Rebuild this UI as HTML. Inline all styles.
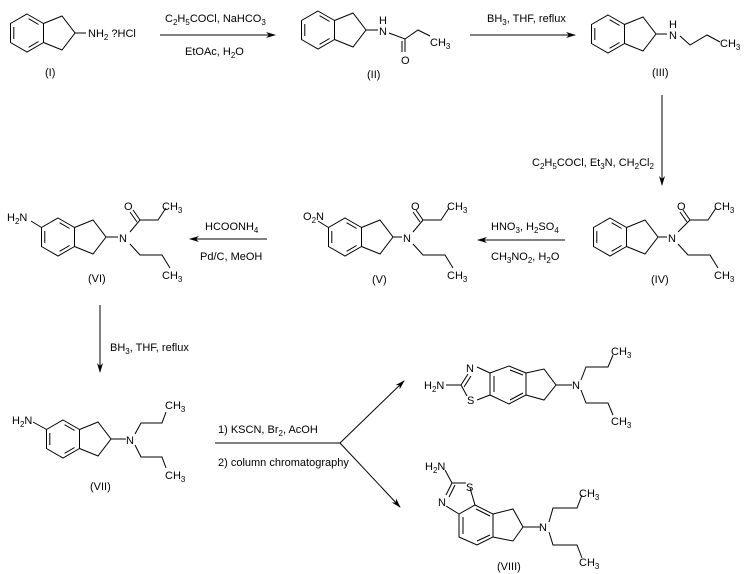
<!DOCTYPE html>
<html><head><meta charset="utf-8"><style>
html,body{margin:0;padding:0;background:#fff;}
svg{display:block;}
text{font-family:"Liberation Sans",sans-serif;font-size:11px;fill:#000;}
.s{font-size:8px;}
</style></head><body>
<svg width="745" height="574" viewBox="0 0 745 574" xmlns="http://www.w3.org/2000/svg">
<defs>
<g id="ind" fill="none" stroke="#000" stroke-width="1">
<polygon points="0,-19 16.5,-9.5 16.5,9.5 0,19 -16.5,9.5 -16.5,-9.5"/>
<polyline points="16.5,-9.5 35,-17 48,0 35,17 16.5,9.5"/>
<line x1="-13.2" y1="-6" x2="-13.2" y2="6"/>
<line x1="1.6" y1="-14.3" x2="11.6" y2="-8.5"/>
<line x1="1.6" y1="14.3" x2="11.6" y2="8.5"/>
</g>
<marker id="ah" markerWidth="10" markerHeight="6" refX="9" refY="3" orient="auto" markerUnits="userSpaceOnUse">
<path d="M0,0 L10,3 L0,6 L3,3 z" fill="#000"/>
</marker>
</defs>
<g stroke="#000" stroke-width="1" fill="none">
<use href="#ind" x="27" y="33"/>
<line x1="75" y1="33" x2="86" y2="33"/>
<line x1="160" y1="35" x2="275" y2="35" marker-end="url(#ah)"/>
<!-- II -->
<use href="#ind" x="318" y="30"/>
<line x1="366" y1="30" x2="378" y2="30"/>
<polyline points="389,33 405,39 418,30 430,36"/>
<line x1="405" y1="39" x2="405" y2="52"/><line x1="402" y1="41" x2="402" y2="52"/>
<line x1="470" y1="35" x2="575" y2="35" marker-end="url(#ah)"/>
<!-- III -->
<use href="#ind" x="608" y="34"/>
<line x1="656" y1="34" x2="667" y2="34"/>
<polyline points="680,36 690,45 707,35 720,42"/>
<line x1="662" y1="95" x2="662" y2="185" marker-end="url(#ah)"/>
<!-- IV -->
<use href="#ind" x="610" y="237"/>
<line x1="658" y1="237" x2="667" y2="237"/>
<polyline points="678,232 690,220 708,220 716,208"/>
<line x1="690" y1="220" x2="683" y2="210"/><line x1="687" y1="222" x2="680" y2="212"/>
<polyline points="678,244 688,255 710,255 718,268"/>
<line x1="565" y1="240" x2="478" y2="240" marker-end="url(#ah)"/>
<!-- V -->
<use href="#ind" x="345" y="237"/>
<line x1="328.5" y1="227.5" x2="318" y2="221"/>
<line x1="393" y1="237" x2="402" y2="237"/>
<polyline points="413,232 423,220 441,220 449,208"/>
<line x1="423" y1="220" x2="416" y2="210"/><line x1="420" y1="222" x2="413" y2="212"/>
<polyline points="413,244 423,255 445,255 453,268"/>
<line x1="267" y1="239" x2="190" y2="239" marker-end="url(#ah)"/>
<!-- VI -->
<use href="#ind" x="58" y="237"/>
<line x1="41.5" y1="227.5" x2="31" y2="221"/>
<line x1="106" y1="237" x2="118" y2="237"/>
<polyline points="130,232 140,220 158,220 166,208"/>
<line x1="140" y1="220" x2="133" y2="210"/><line x1="137" y1="222" x2="130" y2="212"/>
<polyline points="130,244 140,255 162,255 170,268"/>
<line x1="100" y1="305" x2="100" y2="372" marker-end="url(#ah)"/>
<!-- VII -->
<use href="#ind" x="63" y="439"/>
<line x1="46.5" y1="429.5" x2="33" y2="422"/>
<line x1="111" y1="439" x2="126" y2="439"/>
<polyline points="135,434 141,423 162,423 166,412"/>
<polyline points="135,445 141,457 162,457 166,468"/>
<line x1="215" y1="443" x2="340" y2="443"/>
<line x1="340" y1="443" x2="404" y2="381" marker-end="url(#ah)"/>
<line x1="340" y1="443" x2="400" y2="507" marker-end="url(#ah)"/>
<!-- top product -->
<line x1="446" y1="385" x2="461" y2="385"/>
<line x1="461" y1="385" x2="468" y2="374"/><line x1="464" y1="387" x2="471" y2="376"/>
<line x1="461" y1="385" x2="467" y2="396"/>
<line x1="477" y1="367" x2="490" y2="373"/>
<line x1="477" y1="400" x2="490" y2="395"/>
<polygon points="490,373 509,366 526,373 526,395 509,404 490,395"/>
<line x1="494" y1="376" x2="494" y2="392"/>
<line x1="510" y1="370" x2="523" y2="375"/>
<line x1="510" y1="400" x2="523" y2="393"/>
<polyline points="526,373 544,369 556,385 544,400 526,395"/>
<line x1="556" y1="385" x2="572" y2="385"/>
<polyline points="581,380 586,367 608,367 613,355"/>
<polyline points="581,390 586,403 608,403 613,415"/>
<!-- bottom product -->
<line x1="445" y1="470" x2="452" y2="483"/>
<line x1="452" y1="483" x2="466" y2="483"/>
<line x1="452" y1="483" x2="446" y2="495"/><line x1="455" y1="485" x2="449" y2="497"/>
<line x1="470" y1="488" x2="475" y2="505"/>
<line x1="446" y1="506" x2="459" y2="514"/>
<polygon points="475,505 493,514 493,537 477,545 459,537 459,514"/>
<line x1="476" y1="509" x2="490" y2="516"/>
<line x1="463" y1="517" x2="463" y2="534"/>
<line x1="477" y1="541" x2="490" y2="535"/>
<polyline points="493,514 513,509 523,527 513,541 493,537"/>
<line x1="523" y1="527" x2="540" y2="527"/>
<polyline points="549,522 553,508 577,508 582,495"/>
<polyline points="549,532 553,545 577,545 582,558"/>
</g>
<g>
<text x="88" y="37">NH<tspan class="s" dy="3">2</tspan><tspan dy="-3"> ?HCl</tspan></text>
<text x="45" y="76">(I)</text>
<text x="165" y="22">C<tspan class="s" dy="3">2</tspan><tspan dy="-3">H</tspan><tspan class="s" dy="3">5</tspan><tspan dy="-3">COCl, NaHCO</tspan><tspan class="s" dy="3">3</tspan></text>
<text x="185" y="55">EtOAc, H<tspan class="s" dy="3">2</tspan><tspan dy="-3">O</tspan></text>
<!-- II -->
<text x="379" y="24">H</text>
<text x="379" y="35">N</text>
<text x="401" y="64">O</text>
<text x="430" y="46">CH<tspan class="s" dy="3">3</tspan></text>
<text x="367" y="78">(II)</text>
<text x="487" y="22">BH<tspan class="s" dy="3">3</tspan><tspan dy="-3">, THF, reflux</tspan></text>
<text x="669" y="28">H</text>
<text x="669" y="39">N</text>
<text x="720" y="47">CH<tspan class="s" dy="3">3</tspan></text>
<text x="652" y="76">(III)</text>
<text x="532" y="166">C<tspan class="s" dy="3">2</tspan><tspan dy="-3">H</tspan><tspan class="s" dy="3">5</tspan><tspan dy="-3">COCl, Et</tspan><tspan class="s" dy="3">3</tspan><tspan dy="-3">N, CH</tspan><tspan class="s" dy="3">2</tspan><tspan dy="-3">Cl</tspan><tspan class="s" dy="3">2</tspan></text>
<text x="668" y="242">N</text>
<text x="677" y="210">O</text>
<text x="714" y="210">CH<tspan class="s" dy="3">3</tspan></text>
<text x="714" y="279">CH<tspan class="s" dy="3">3</tspan></text>
<text x="651" y="283">(IV)</text>
<text x="491" y="230">HNO<tspan class="s" dy="3">3</tspan><tspan dy="-3">, H</tspan><tspan class="s" dy="3">2</tspan><tspan dy="-3">SO</tspan><tspan class="s" dy="3">4</tspan></text>
<text x="491" y="260">CH<tspan class="s" dy="3">3</tspan><tspan dy="-3">NO</tspan><tspan class="s" dy="3">2</tspan><tspan dy="-3">, H</tspan><tspan class="s" dy="3">2</tspan><tspan dy="-3">O</tspan></text>
<text x="303" y="220">O<tspan class="s" dy="3">2</tspan><tspan dy="-3">N</tspan></text>
<text x="403" y="242">N</text>
<text x="411" y="210">O</text>
<text x="447" y="210">CH<tspan class="s" dy="3">3</tspan></text>
<text x="447" y="279">CH<tspan class="s" dy="3">3</tspan></text>
<text x="372" y="283">(V)</text>
<text x="205" y="230">HCOONH<tspan class="s" dy="3">4</tspan></text>
<text x="200" y="260">Pd/C, MeOH</text>
<text x="7" y="221">H<tspan class="s" dy="3">2</tspan><tspan dy="-3">N</tspan></text>
<text x="119" y="242">N</text>
<text x="124" y="210">O</text>
<text x="162" y="210">CH<tspan class="s" dy="3">3</tspan></text>
<text x="162" y="279">CH<tspan class="s" dy="3">3</tspan></text>
<text x="88" y="282">(VI)</text>
<text x="110" y="351">BH<tspan class="s" dy="3">3</tspan><tspan dy="-3">, THF, reflux</tspan></text>
<!-- VII -->
<text x="12" y="424">H<tspan class="s" dy="3">2</tspan><tspan dy="-3">N</tspan></text>
<text x="126" y="444">N</text>
<text x="165" y="409">CH<tspan class="s" dy="3">3</tspan></text>
<text x="165" y="479">CH<tspan class="s" dy="3">3</tspan></text>
<text x="90" y="490">(VII)</text>
<text x="218" y="433">1) KSCN, Br<tspan class="s" dy="3">2</tspan><tspan dy="-3">, AcOH</tspan></text>
<text x="218" y="466">2) column chromatography</text>
<text x="424" y="389">H<tspan class="s" dy="3">2</tspan><tspan dy="-3">N</tspan></text>
<text x="466" y="372">N</text>
<text x="467" y="404">S</text>
<text x="572" y="389">N</text>
<text x="611" y="355">CH<tspan class="s" dy="3">3</tspan></text>
<text x="611" y="425">CH<tspan class="s" dy="3">3</tspan></text>
<text x="425" y="470">H<tspan class="s" dy="3">2</tspan><tspan dy="-3">N</tspan></text>
<text x="466" y="491">S</text>
<text x="438" y="506">N</text>
<text x="539" y="531">N</text>
<text x="579" y="497">CH<tspan class="s" dy="3">3</tspan></text>
<text x="579" y="566">CH<tspan class="s" dy="3">3</tspan></text>
<text x="497" y="570">(VIII)</text>
</g>
</svg>
</body></html>
